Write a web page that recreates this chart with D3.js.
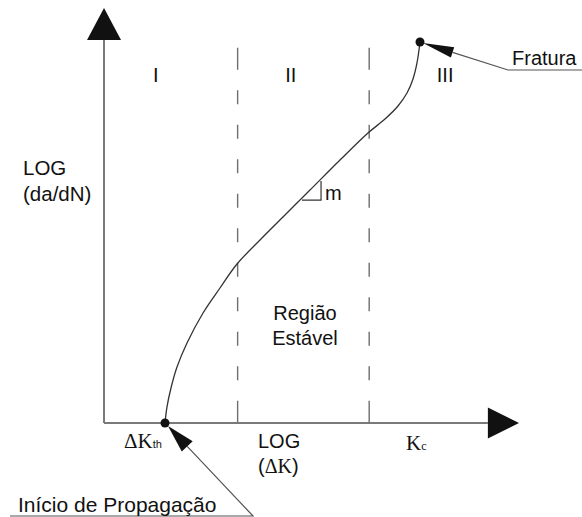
<!DOCTYPE html>
<html>
<head>
<meta charset="utf-8">
<script src="https://cdn.jsdelivr.net/npm/d3@7"></script>
<style>
  html, body { margin: 0; padding: 0; background: #fff; }
  svg { display: block; }
  .sans { font-family: "Liberation Sans", Arial, sans-serif; fill: #111; }
</style>
</head>
<body>
<svg id="chart" width="582" height="517"></svg>
<script>
// Crack growth curve: log(ΔK) on x, log(da/dN) on y (arbitrary log units)
const logDeltaK = [1.470, 1.518, 1.614, 1.759, 2.000, 2.386, 2.795, 3.205, 3.759, 4.361, 4.964, 5.687, 6.361, 6.771, 7.084, 7.301, 7.446, 7.542, 7.614];
const logDaDN   = [0.000, 0.386, 0.843, 1.349, 1.928, 2.651, 3.253, 3.831, 4.410, 5.012, 5.614, 6.337, 6.988, 7.325, 7.639, 7.952, 8.289, 8.675, 9.181];

// Region boundaries (ΔKth..II, II..Kc) and region labels
const regionBounds = [3.22, 6.39];
const regionLabels = ["I", "II", "III"];
const regionLabelX = [1.25, 4.50, 8.22];

// Slope triangle for the Paris regime (Region II)
const slopeX = [4.77, 5.23];
const slopeY = [5.37, 5.83];

const xMax = 10, yMax = 10;

const svg = d3.select("#chart");
const x = d3.scaleLinear().domain([0, xMax]).range([104, 519]);
const y = d3.scaleLinear().domain([0, yMax]).range([423, 8]);

const axisColor = "#7a7a7a";
const ink = "#111";

// Axes with solid arrowheads
svg.append("line")
  .attr("x1", x(0)).attr("y1", y(0)).attr("x2", x(0)).attr("y2", y(9.23))
  .attr("stroke", axisColor).attr("stroke-width", 2);
svg.append("path")
  .attr("d", `M${x(0)},${y(yMax)} L${x(0) - 17},${y(9.23)} L${x(0) + 17},${y(9.23)} Z`)
  .attr("fill", ink);

svg.append("line")
  .attr("x1", x(0)).attr("y1", y(0)).attr("x2", x(9.25)).attr("y2", y(0))
  .attr("stroke", axisColor).attr("stroke-width", 2);
svg.append("path")
  .attr("d", `M${x(xMax)},${y(0)} L${x(9.25)},${y(0) - 15.5} L${x(9.25)},${y(0) + 15.5} Z`)
  .attr("fill", ink);

// Dashed region boundaries: longer dashes at both ends
const dashTop = 9.04;
const dashArr = [22];
for (let i = 0; i < 9; i++) dashArr.push(20.5, 14);
dashArr.push(20.5, 22);
svg.selectAll(".bound").data(regionBounds).enter().append("line")
  .attr("class", "bound")
  .attr("x1", d => x(d)).attr("x2", d => x(d))
  .attr("y1", y(dashTop)).attr("y2", y(0))
  .attr("stroke", "#6e6e6e").attr("stroke-width", 1.4)
  .attr("stroke-dasharray", dashArr.join(" "));

// Curve
const pts = logDeltaK.map((v, i) => [v, logDaDN[i]]);
const line = d3.line().x(d => x(d[0])).y(d => y(d[1])).curve(d3.curveCatmullRom.alpha(0.5));
svg.append("path").datum(pts)
  .attr("d", line)
  .attr("fill", "none").attr("stroke", "#333").attr("stroke-width", 1.3);

// Slope triangle
svg.append("path")
  .attr("d", `M${x(slopeX[0])},${y(slopeY[0])} L${x(slopeX[1])},${y(slopeY[0])} L${x(slopeX[1])},${y(slopeY[1])}`)
  .attr("fill", "none").attr("stroke", "#333").attr("stroke-width", 1.2);
svg.append("text").attr("class", "sans")
  .attr("x", x(slopeX[1]) + 4).attr("y", y(slopeY[0]))
  .attr("font-size", 20).text("m");

// End points
const ends = [pts[0], pts[pts.length - 1]];
svg.selectAll(".end").data(ends).enter().append("circle")
  .attr("cx", d => x(d[0])).attr("cy", d => y(d[1])).attr("r", 4.5).attr("fill", ink);

// Leader arrows
function leader(tip, elbow, endX, headLen, headHalf) {
  const dx = elbow[0] - tip[0], dy = elbow[1] - tip[1];
  const L = Math.hypot(dx, dy), ux = dx / L, uy = dy / L;
  const bx = tip[0] + ux * headLen, by = tip[1] + uy * headLen;
  svg.append("path")
    .attr("d", `M${bx},${by} L${elbow[0]},${elbow[1]} L${endX},${elbow[1]}`)
    .attr("fill", "none").attr("stroke", "#555").attr("stroke-width", 1.2);
  svg.append("path")
    .attr("d", `M${tip[0]},${tip[1]} L${bx - uy * headHalf},${by + ux * headHalf} L${bx + uy * headHalf},${by - ux * headHalf} Z`)
    .attr("fill", ink);
}
const fracturePt = ends[1], initPt = ends[0];
leader([x(fracturePt[0]) + 3, y(fracturePt[1]) + 1], [508, 70], 582, 31, 5.5);
leader([x(initPt[0]) + 3, y(initPt[1]) + 3], [253, 516], 10, 28, 7.5);

// Region labels
svg.selectAll(".reg").data(regionLabels).enter().append("text")
  .attr("class", "sans")
  .attr("x", (d, i) => x(regionLabelX[i])).attr("y", 82)
  .attr("text-anchor", "middle").attr("font-size", 20)
  .text(d => d);

// Axis titles
const yTitle = svg.append("text").attr("class", "sans").attr("font-size", 20.5);
yTitle.append("tspan").attr("x", 23).attr("y", 175).text("LOG");
yTitle.append("tspan").attr("x", 23).attr("y", 201).text("(da/dN)");

svg.append("text").attr("class", "sans").attr("font-size", 20)
  .attr("x", 258).attr("y", 448).text("LOG");
const xt2 = svg.append("text").attr("class", "sans").attr("font-size", 20).attr("x", 258).attr("y", 473);
xt2.append("tspan").text("(");
xt2.append("tspan").attr("font-family", "Liberation Serif, serif").text("ΔK");
xt2.append("tspan").text(")");

// Threshold and critical intensity labels
const kth = svg.append("text").attr("x", 124).attr("y", 448);
kth.append("tspan").attr("font-family", "Liberation Serif, serif").attr("font-size", 21).attr("fill", ink).text("ΔK");
kth.append("tspan").attr("font-family", "Liberation Sans, sans-serif").attr("font-size", 11).attr("fill", ink).text("th");

const kc = svg.append("text").attr("x", 406).attr("y", 450);
kc.append("tspan").attr("font-family", "Liberation Serif, serif").attr("font-size", 21).attr("fill", ink).text("K");
kc.append("tspan").attr("font-family", "Liberation Serif, serif").attr("font-size", 12).attr("fill", ink).text("c");

// Stable region label
const stable = svg.append("text").attr("class", "sans").attr("font-size", 20).attr("text-anchor", "middle");
stable.append("tspan").attr("x", 305).attr("y", 320).text("Região");
stable.append("tspan").attr("x", 305).attr("y", 345).text("Estável");

// Annotation texts
svg.append("text").attr("class", "sans").attr("font-size", 20).attr("x", 512).attr("y", 65).text("Fratura");
svg.append("text").attr("class", "sans").attr("font-size", 21).attr("x", 18).attr("y", 512).text("Início de Propagação");
</script>
</body>
</html>
